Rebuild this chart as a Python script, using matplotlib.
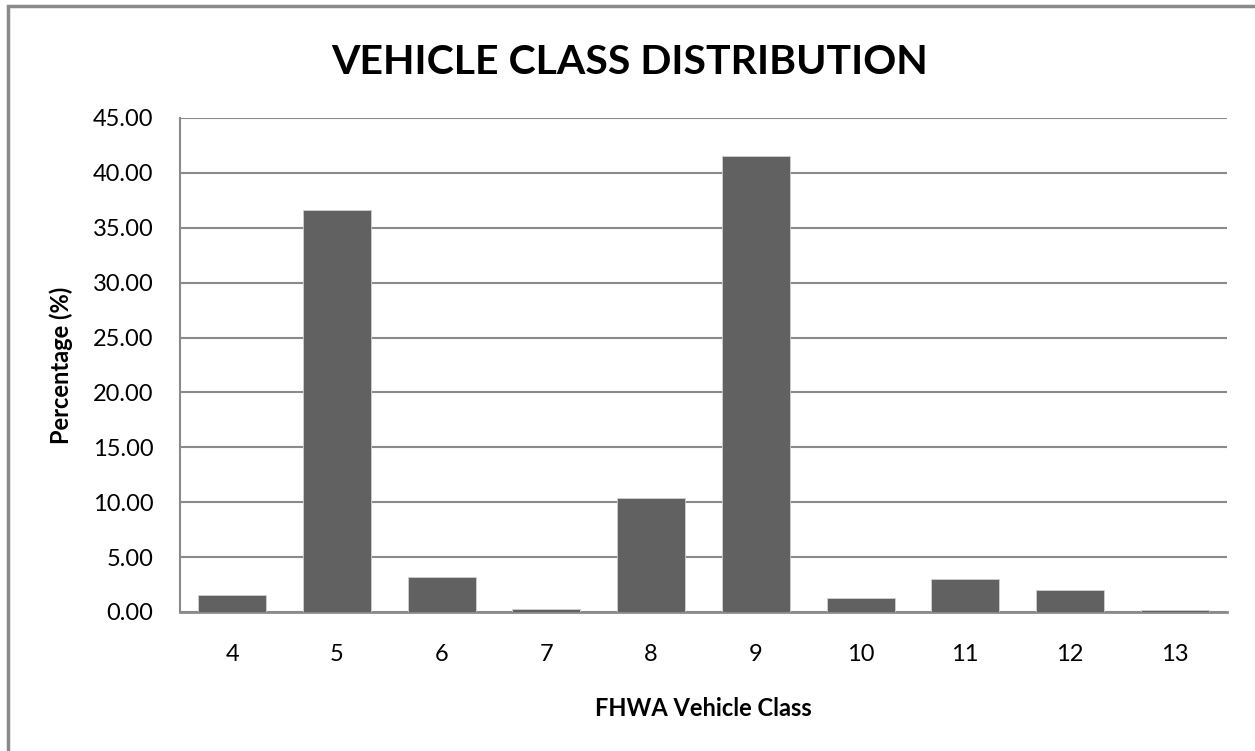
import matplotlib.pyplot as plt
from matplotlib.patches import Rectangle

classes = ['4', '5', '6', '7', '8', '9', '10', '11', '12', '13']
pct = [1.58, 36.6, 3.2, 0.3, 10.4, 41.5, 1.3, 3.0, 1.98, 0.18]

plt.rcParams['font.family'] = ['Lato', 'DejaVu Sans']

fig = plt.figure(figsize=(12.55, 7.51), dpi=100)
ax = fig.add_axes([180/1255, 1 - 612/751, 1047/1255, 494/751])

ax.bar(range(len(classes)), pct, width=0.65, color='#616161', edgecolor='#d0d0d0', linewidth=0.6, zorder=3)
ax.set_xlim(-0.5, len(classes) - 0.5)
ax.set_ylim(0, 45)
ax.set_yticks(range(0, 46, 5))
ax.set_yticklabels([f'{v:.2f}' for v in range(0, 46, 5)])
ax.set_xticks(range(len(classes)))
ax.set_xticklabels(classes)
ax.grid(axis='y', color='#8a8a8a', linewidth=1.5, zorder=0)
ax.tick_params(axis='both', length=0, labelsize=17)
ax.tick_params(axis='x', pad=23)
ax.tick_params(axis='y', pad=19)
for s in ['top', 'right']:
    ax.spines[s].set_visible(False)
ax.spines['left'].set_color('#8a8a8a')
ax.spines['left'].set_linewidth(1.5)
ax.spines['bottom'].set_color('#8a8a8a')
ax.spines['bottom'].set_linewidth(2)

ax.set_xlabel('FHWA Vehicle Class', fontsize=17, fontweight='bold', labelpad=23)
ax.set_ylabel('Percentage (%)', fontsize=17, fontweight='bold', labelpad=14)
fig.text(630/1255, 1 - 62/751, 'VEHICLE CLASS DISTRIBUTION', ha='center', va='center',
         fontsize=29.5, fontweight='bold')

fig.patches.append(Rectangle((8/1255, -0.1), 1.2, 1 - 6/751 + 0.1, transform=fig.transFigure,
                             fill=False, edgecolor='#8a8a8a', linewidth=2.5))

fig.savefig('out.png', dpi=100)
